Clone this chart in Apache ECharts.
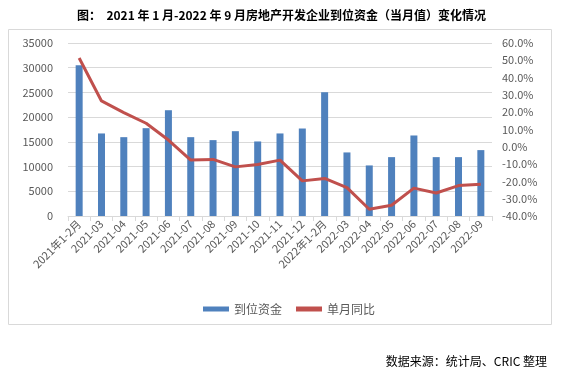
<!DOCTYPE html>
<html>
<head>
<meta charset="utf-8">
<script src="https://cdn.jsdelivr.net/npm/echarts@6/dist/echarts.min.js"></script>
<style>
  html, body { margin: 0; padding: 0; background: #fff; }
  #main { width: 563px; height: 377px; }
</style>
</head>
<body>
<div id="main"></div>
<script>
// 月份
var months = ["2021年1-2月", "2021-03", "2021-04", "2021-05", "2021-06", "2021-07", "2021-08",
  "2021-09", "2021-10", "2021-11", "2021-12", "2022年1-2月", "2022-03", "2022-04", "2022-05",
  "2022-06", "2022-07", "2022-08", "2022-09"];
// 到位资金（亿元）
var funds = [30490, 16700, 15950, 17770, 21400, 15950, 15350, 17160, 15080, 16700,
  17700, 25040, 12860, 10230, 11910, 16290, 11910, 11910, 13330];
// 单月同比（%）
var yoy = [51.3, 26.5, 19.8, 13.6, 3.9, -7.7, -7.3, -11.6, -10.2, -7.7,
  -19.7, -18.3, -23.6, -36.1, -33.8, -23.9, -26.7, -22.4, -21.6];

var labelColor = "#595959";
var fontFam = "'Noto Sans CJK SC', 'Noto Sans', sans-serif";

var myChart = echarts.init(document.getElementById("main"));
myChart.setOption({
  animation: false,
  textStyle: { fontFamily: fontFam },
  title: {
    text: "图：  2021 年 1 月-2022 年 9 月房地产开发企业到位资金（当月值）变化情况",
    left: "center",
    top: 4,
    textStyle: { fontSize: 12, fontWeight: "bold", color: "#000", fontFamily: fontFam }
  },
  graphic: [
    {
      type: "rect",
      shape: { x: 8.5, y: 29.5, width: 543, height: 295 },
      style: { fill: "none", stroke: "#d9d9d9", lineWidth: 1 },
      silent: true
    },
    {
      type: "text",
      right: 16,
      top: 355,
      style: { text: "数据来源：统计局、CRIC 整理", fontSize: 12, fill: "#000", fontFamily: fontFam }
    }
  ],
  legend: {
    top: 298,
    left: 198,
    itemWidth: 26,
    itemHeight: 5,
    itemGap: 14,
    textStyle: { fontSize: 12, color: labelColor },
    data: [
      { name: "到位资金", icon: "rect" },
      { name: "单月同比", icon: "rect", itemStyle: { color: "#c0504d" } }
    ]
  },
  grid: {
    left: 68,
    right: 71,
    top: 43,
    bottom: 161
  },
  xAxis: {
    type: "category",
    data: months,
    axisLine: { lineStyle: { color: "#d9d9d9" } },
    axisTick: { show: true, length: 5, lineStyle: { color: "#d9d9d9" } },
    axisLabel: { rotate: 45, interval: 0, fontSize: 11, color: labelColor, margin: 6 }
  },
  yAxis: [
    {
      type: "value",
      min: 0,
      max: 35000,
      interval: 5000,
      axisLine: { show: false },
      axisTick: { show: false },
      axisLabel: {
        fontSize: 11,
        color: labelColor,
        margin: 15,
        formatter: function (v) { return String(v); }
      },
      splitLine: { lineStyle: { color: "#d9d9d9" } }
    },
    {
      type: "value",
      min: -40,
      max: 60,
      interval: 10,
      axisLine: { show: false },
      axisTick: { show: false },
      splitLine: { show: false },
      axisLabel: {
        fontSize: 11,
        color: labelColor,
        margin: 10,
        formatter: function (v) { return v.toFixed(1) + "%"; }
      }
    }
  ],
  series: [
    {
      name: "到位资金",
      type: "bar",
      data: funds,
      barWidth: 7,
      itemStyle: { color: "#4f81bd" }
    },
    {
      name: "单月同比",
      type: "line",
      yAxisIndex: 1,
      data: yoy,
      symbol: "none",
      lineStyle: { color: "#c0504d", width: 3 },
      itemStyle: { color: "#c0504d" }
    }
  ]
});
</script>
</body>
</html>
